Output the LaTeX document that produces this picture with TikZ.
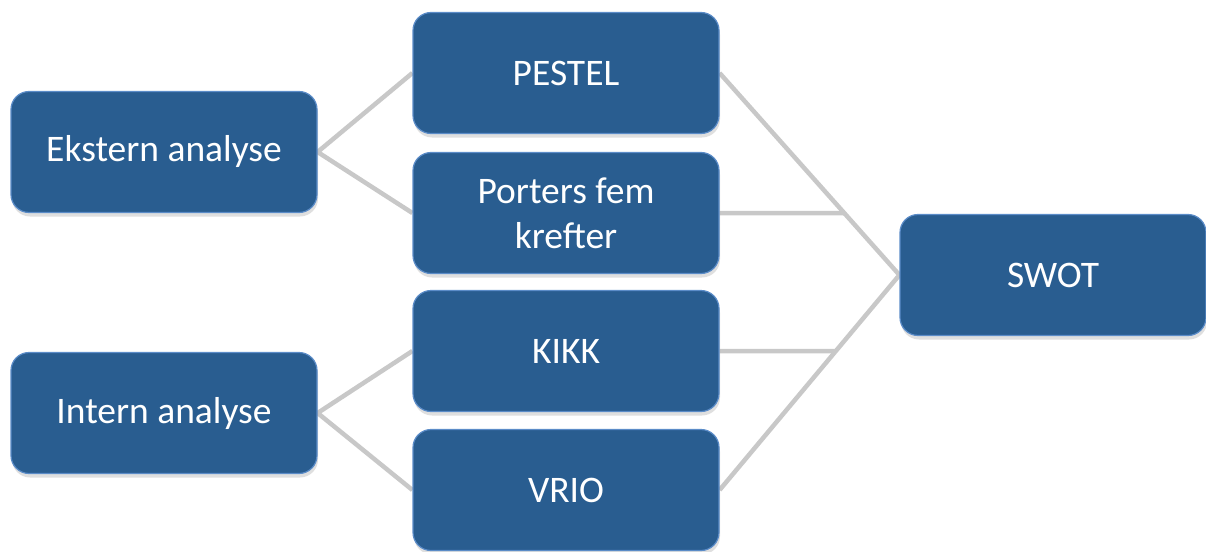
\documentclass[tikz,border=0pt]{standalone}
\usepackage{fontspec}
\setmainfont{Carlito}
\usepackage{tikz}
\usetikzlibrary{
  positioning,
  calc,
  shadows,
  backgrounds
}
\definecolor{boxblue}{HTML}{295D90}
\definecolor{boxedge}{HTML}{5B8CC8}
\definecolor{linkgray}{HTML}{C8C8C8}

\begin{document}
\begin{tikzpicture}[x=1pt, y=-1pt,
    box/.style={rectangle, rounded corners=18pt, fill=boxblue, draw=boxedge,
      line width=1.2pt, minimum width=306pt, minimum height=121pt,
      text=white, align=center, font=\fontsize{37.5}{45}\selectfont,
      drop shadow={opacity=0.25, shadow xshift=1pt, shadow yshift=-4pt}},
    link/.style={draw=linkgray, line width=4.5pt}
  ]
  \useasboundingbox (0,0) rectangle (1206,551);

  % Left column
  \node[box] (ekstern) at (164,152) {Ekstern analyse};
  \node[box] (intern) at (164,413) {Intern analyse};

  % Middle column
  \node[box] (pestel) at (566,73) {PESTEL};
  \node[box] (porter) at (566,213) {Porters fem\\krefter};
  \node[box] (kikk) at (566,351) {KIKK};
  \node[box] (vrio) at (566,490) {VRIO};

  % Right
  \node[box] (swot) at (1053,275) {SWOT};

  % Junctions on the diagonal links
  \coordinate (p2) at (swot.west |- porter.east);
  \coordinate (p3) at (swot.west |- kikk.east);
  \coordinate (j1) at (intersection of pestel.east--swot.west and porter.east--p2);
  \coordinate (j2) at (intersection of vrio.east--swot.west and kikk.east--p3);

  % Links
  \begin{scope}[on background layer]
    \draw[link] (pestel.west) -- (ekstern.east) -- (porter.west);
    \draw[link] (kikk.west) -- (intern.east) -- (vrio.west);
    \draw[link] (pestel.east) -- (swot.west) -- (vrio.east);
    \draw[link] (porter.east) -- (j1);
    \draw[link] (kikk.east) -- (j2);
  \end{scope}
\end{tikzpicture}
\end{document}
